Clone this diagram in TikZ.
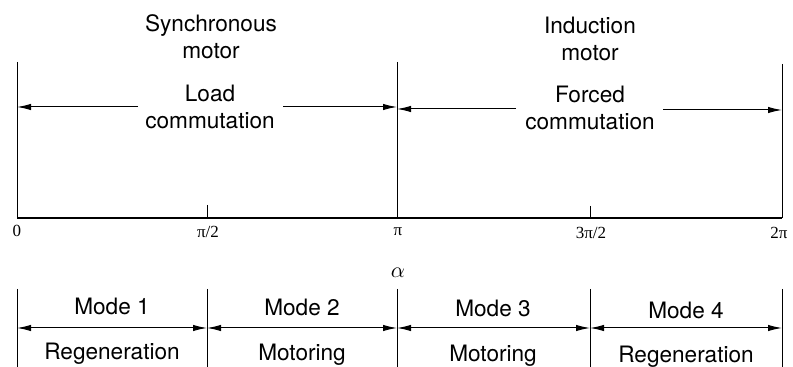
\documentclass[tikz,border=0pt]{standalone}
\usepackage{fontspec}
\setmainfont{TeX Gyre Heros}
\newfontfamily\numfont{Liberation Serif}
\usetikzlibrary{arrows.meta}
\begin{document}
\begin{tikzpicture}[x=0.5pt,y=-0.5pt,
  lbl/.style={font=\fontsize{11.3}{13.4}\selectfont,align=center,inner sep=0pt},
  tlbl/.style={font=\numfont\fontsize{8.5}{9}\selectfont,inner sep=0pt},
  bound/.style={line width=0.5pt},
  axisline/.style={line width=0.75pt},
  tip/.style={-{Latex[length=7pt,width=3.2pt]},line width=0.5pt},
  dtip/.style={{Latex[length=7pt,width=3.2pt]}-{Latex[length=7pt,width=3.2pt]},line width=0.5pt}]
\useasboundingbox (0,0) rectangle (793,367);
% top boundaries
\coordinate (t0) at (17,62);   \coordinate (a0) at (17,218);
\coordinate (t2) at (397,62);  \coordinate (a2) at (397,218);
\coordinate (t4) at (782,64);  \coordinate (a4) at (782,218);
\coordinate (k1) at (207,205); \coordinate (a1) at (207,218);
\coordinate (k3) at (590,206); \coordinate (a3) at (590,218);
\draw[bound] (t0) -- (a0);
\draw[bound] (t2) -- (a2);
\draw[bound] (t4) -- (a4);
\draw[axisline] (a0) -- (a4);
\draw[bound] (k1) -- (a1);
\draw[bound] (k3) -- (a3);
% axis labels
\node[tlbl] (l0) at (17,231) {0};
\node[tlbl] (l1) at (208,232) {π/2};
\node[tlbl] (l2) at (398,232) {π};
\node[tlbl] (l3) at (591,233) {3π/2};
\node[tlbl] (l4) at (779,233) {2π};
\node[inner sep=0pt,font=\fontsize{10.5}{12}\selectfont] (alpha) at (398,273) {$\alpha$};
% top texts
\node[lbl] (sync) at (211,37) {Synchronous\\motor};
\node[lbl] (load) at (210,107) {Load\\commutation};
\node[lbl] (ind) at (590,39) {Induction\\motor};
\node[lbl] (forced) at (590,108) {Forced\\commutation};
% top arrows
\coordinate (la) at (138,107); \coordinate (lb) at (283,107);
\coordinate (ra) at (516,109); \coordinate (rb) at (663,110);
\draw[tip] (la) -- (la -| t0);
\draw[tip] (lb) -- (lb -| t2);
\draw[tip] (ra) -- (ra -| t2);
\draw[tip] (rb) -- (rb -| t4);
% bottom boundaries
\foreach \i/\x in {0/17,1/207,2/397,3/590,4/782}{
  \coordinate (b\i) at (\x,289);
  \coordinate (e\i) at (\x,367);
  \coordinate (m\i) at (\x,328);
  \draw[bound] (b\i) -- (e\i);
}
\draw[dtip] (m0) -- (m1);
\draw[dtip] (m1) -- (m2);
\draw[dtip] (m2) -- (m3);
\draw[dtip] (m3) -- (m4);
% bottom texts
\node[lbl] (mode1) at (112,306) {Mode 1};
\node[lbl] (mode2) at (302,307) {Mode 2};
\node[lbl] (mode3) at (493,308) {Mode 3};
\node[lbl] (mode4) at (686,310) {Mode 4};
\node[lbl] (reg1) at (112,354) {Regeneration};
\node[lbl] (mot2) at (302,355) {Motoring};
\node[lbl] (mot3) at (493,356) {Motoring};
\node[lbl] (reg4) at (686,357) {Regeneration};
\end{tikzpicture}
\end{document}
